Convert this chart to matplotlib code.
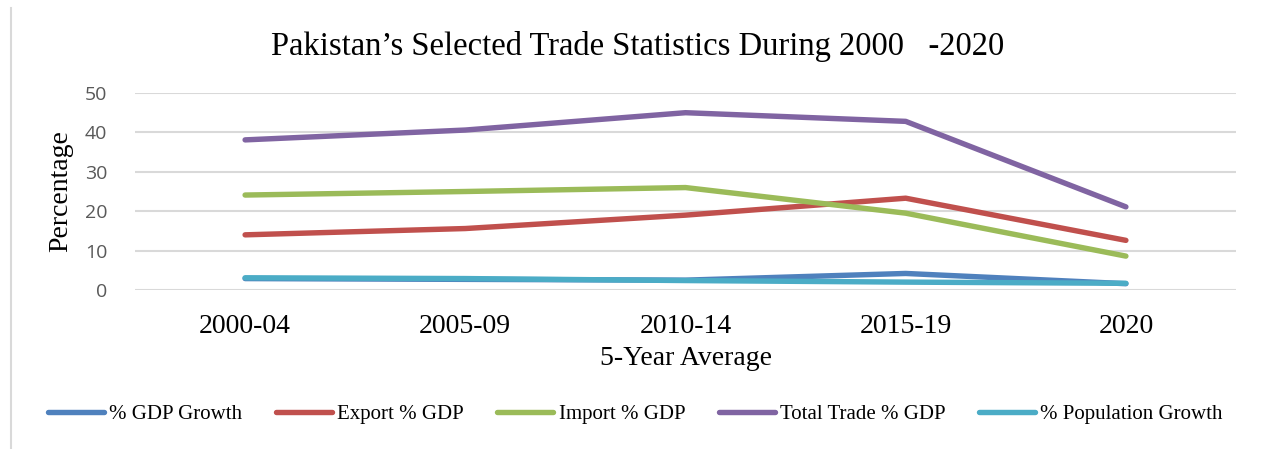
import matplotlib
matplotlib.use("Agg")
import matplotlib.pyplot as plt
from matplotlib.lines import Line2D

categories = ["2000-04", "2005-09", "2010-14", "2015-19", "2020"]
gdp_growth = [2.9, 2.7, 2.5, 4.2, 1.6]
export_gdp = [14.0, 15.6, 19.0, 23.3, 12.6]
import_gdp = [24.1, 25.0, 26.0, 19.5, 8.6]
total_trade_gdp = [38.1, 40.6, 45.0, 42.8, 21.1]
pop_growth = [3.1, 2.9, 2.4, 2.0, 1.7]

series_names = ["% GDP Growth", "Export % GDP", "Import % GDP",
                "Total Trade % GDP", "% Population Growth"]
series_values = [gdp_growth, export_gdp, import_gdp, total_trade_gdp, pop_growth]
colors = ["#4F81BD", "#C0504D", "#9BBB59", "#8064A2", "#4BACC6"]

serif = "Liberation Serif"

fig = plt.figure(figsize=(12.63, 4.49), dpi=100)
ax = fig.add_axes([135/1263, 1-290/449, (1236-135)/1263, (290-93)/449])

x = list(range(len(categories)))
for name, vals, c in zip(series_names, series_values, colors):
    ax.plot(x, vals, color=c, lw=3.9, solid_capstyle="round",
            solid_joinstyle="round", label=name)

ax.set_xlim(-0.5, len(categories) - 0.5)
ax.set_ylim(0, 50)
ax.set_yticks([0, 10, 20, 30, 40, 50])
ax.set_xticks(x)
ax.set_xticklabels(categories, family=serif, fontsize=20, color="black")
for lab in ax.get_yticklabels():
    lab.set_family("Open Sans")
    lab.set_fontsize(14)
    lab.set_color("#595959")
ax.tick_params(axis="y", length=0, pad=20)
ax.tick_params(axis="x", length=0, pad=17)
ax.grid(axis="y", color="#D9D9D9", lw=1.5)
ax.set_axisbelow(True)
for s in ax.spines.values():
    s.set_visible(False)

ax.set_xlabel("5-Year Average", family=serif, fontsize=20, labelpad=5)
ax.set_ylabel("Percentage", family=serif, fontsize=20, labelpad=8)

fig.text(0.505, 1-46/449, "Pakistan\u2019s Selected Trade Statistics During 2000   -2020",
         family=serif, fontsize=23.5, ha="center", va="center")

fig.legend(loc="center", bbox_to_anchor=(0.503, 1-414/449), ncol=5, frameon=False,
           prop={"family": serif, "size": 15}, handlelength=2.7,
           handletextpad=0.25, columnspacing=1.6)

fig.add_artist(Line2D([10.5/1263, 10.5/1263], [0, 1-8/449], color="#D9D9D9",
                      lw=1.5, transform=fig.transFigure))

fig.savefig("out.png", dpi=100)
